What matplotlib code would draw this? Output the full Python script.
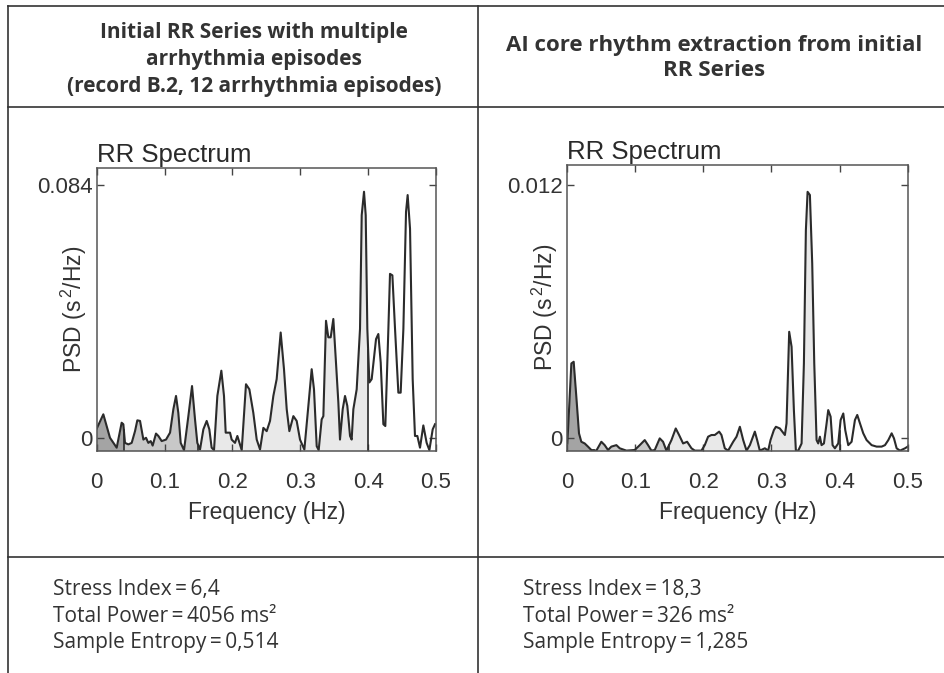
import numpy as np
import matplotlib.pyplot as plt
from matplotlib.lines import Line2D

plt.rcParams['font.family'] = ['Liberation Sans', 'DejaVu Sans']
plt.rcParams['mathtext.fontset'] = 'custom'
plt.rcParams['mathtext.rm'] = 'Liberation Sans'

# spectrum of the initial RR series (Hz, s^2/Hz)
freq_init = [0.000, 0.0098, 0.0196, 0.0295, 0.0368, 0.0393, 0.0417, 0.0467, 0.0516, 0.0565,
             0.0599, 0.0639, 0.0688, 0.0727, 0.0761, 0.0796, 0.0825, 0.0874, 0.0909, 0.0958,
             0.1022, 0.1081, 0.1130, 0.1169, 0.1203, 0.1238, 0.1287, 0.1351, 0.1405, 0.1449,
             0.1483, 0.1523, 0.1572, 0.1621, 0.1660, 0.1694, 0.1729, 0.1778, 0.1837, 0.1876,
             0.1901, 0.1965, 0.1989, 0.2038, 0.2073, 0.2137, 0.2200, 0.2250, 0.2308, 0.2358,
             0.2407, 0.2456, 0.2505, 0.2554, 0.2603, 0.2652, 0.2711, 0.2760, 0.2800, 0.2839,
             0.2898, 0.2947, 0.2996, 0.3060, 0.3119, 0.3168, 0.3202, 0.3242, 0.3271, 0.3315,
             0.3340, 0.3379, 0.3413, 0.3448, 0.3487, 0.3526, 0.3561, 0.3585, 0.3625, 0.3659,
             0.3693, 0.3733, 0.3757, 0.3782, 0.3831, 0.3880, 0.3905, 0.3939, 0.3964, 0.3988,
             0.4018, 0.4052, 0.4116, 0.4150, 0.4185, 0.4224, 0.4253, 0.4298, 0.4322, 0.4357,
             0.4396, 0.4445, 0.4479, 0.4519, 0.4558, 0.4582, 0.4617, 0.4656, 0.4690, 0.4725,
             0.4764, 0.4813, 0.4862, 0.4902, 0.4951, 0.4985]
psd_init = [0.0030, 0.0078, 0.0000, -0.0033, 0.0050, 0.0045, -0.0017, -0.0022, -0.0017, 0.0022,
            0.0058, 0.0056, -0.0006, 0.0000, -0.0017, -0.0011, -0.0026, 0.0014, 0.0006, -0.0011,
            -0.0006, 0.0017, 0.0095, 0.0139, 0.0083, -0.0017, -0.0041, 0.0072, 0.0172, 0.0061,
            -0.0017, -0.0039, 0.0028, 0.0056, 0.0028, -0.0033, -0.0041, 0.0139, 0.0223, 0.0139,
            0.0017, 0.0017, -0.0006, -0.0017, 0.0006, -0.0041, 0.0178, 0.0161, 0.0083, -0.0006,
            -0.0039, 0.0033, 0.0022, 0.0056, 0.0139, 0.0195, 0.0350, 0.0228, 0.0095, 0.0022,
            0.0072, 0.0056, -0.0006, -0.0039, 0.0106, 0.0228, 0.0161, -0.0028, -0.0041, 0.0061,
            0.0072, 0.0389, 0.0334, 0.0334, 0.0395, 0.0250, 0.0117, -0.0006, 0.0095, 0.0139,
            0.0106, 0.0006, -0.0006, 0.0095, 0.0161, 0.0362, 0.0740, 0.0818, 0.0740, 0.0362,
            0.0184, 0.0195, 0.0328, 0.0345, 0.0250, 0.0045, 0.0039, 0.0362, 0.0545, 0.0540,
            0.0362, 0.0150, 0.0150, 0.0362, 0.0751, 0.0807, 0.0695, 0.0195, 0.0006, 0.0006,
            -0.0033, 0.0041, -0.0017, -0.0041, 0.0028, 0.0045]

# spectrum after AI core rhythm extraction
freq_core = [0.0005, 0.0064, 0.0098, 0.0137, 0.0176, 0.0210, 0.0260, 0.0308, 0.0357, 0.0431,
             0.0504, 0.0553, 0.0602, 0.0651, 0.0725, 0.0774, 0.0872, 0.0994, 0.1068, 0.1141,
             0.1190, 0.1239, 0.1288, 0.1361, 0.1410, 0.1459, 0.1533, 0.1596, 0.1645, 0.1704,
             0.1763, 0.1827, 0.1876, 0.1973, 0.2022, 0.2071, 0.2120, 0.2169, 0.2233, 0.2267,
             0.2316, 0.2365, 0.2439, 0.2488, 0.2537, 0.2586, 0.2635, 0.2684, 0.2757, 0.2791,
             0.2830, 0.2904, 0.2953, 0.2987, 0.3036, 0.3066, 0.3124, 0.3198, 0.3222, 0.3261,
             0.3296, 0.3330, 0.3359, 0.3394, 0.3443, 0.3477, 0.3506, 0.3531, 0.3565, 0.3599,
             0.3629, 0.3663, 0.3687, 0.3712, 0.3736, 0.3771, 0.3810, 0.3834, 0.3869, 0.3898,
             0.3932, 0.3981, 0.4016, 0.4055, 0.4084, 0.4128, 0.4177, 0.4226, 0.4260, 0.4300,
             0.4348, 0.4397, 0.4471, 0.4544, 0.4618, 0.4667, 0.4716, 0.4765, 0.4799, 0.4838,
             0.4887, 0.4961, 0.5000]
psd_core = [-0.00024, 0.00355, 0.00363, 0.00197, 0.00024, -0.00016, -0.00024, -0.00039, -0.00055, -0.00058,
            -0.00016, -0.00032, -0.00055, -0.00039, -0.00032, -0.00047, -0.00058, -0.00055, -0.00032, -0.00008,
            -0.00032, -0.00058, -0.00055, 0.00000, -0.00016, -0.00058, -0.00008, 0.00047, 0.00016, -0.00024,
            -0.00016, -0.00047, -0.00058, -0.00058, -0.00032, 0.00008, 0.00016, 0.00016, 0.00032, 0.00016,
            -0.00047, -0.00058, -0.00016, 0.00008, 0.00055, -0.00008, -0.00058, -0.00032, 0.00032, -0.00008,
            -0.00058, -0.00047, -0.00058, -0.00008, 0.00039, 0.00055, 0.00047, 0.00016, 0.00071, 0.00505,
            0.00434, 0.00134, -0.00058, -0.00058, -0.00024, 0.00355, 0.00987, 0.01168, 0.01153, 0.00829,
            0.00355, -0.00008, -0.00024, 0.00008, -0.00032, -0.00024, 0.00071, 0.00134, 0.00103, -0.00032,
            -0.00047, -0.00024, 0.00087, 0.00118, 0.00039, -0.00032, -0.00016, 0.00087, 0.00111, 0.00071,
            0.00024, -0.00008, -0.00032, -0.00039, -0.00039, -0.00032, -0.00008, 0.00024, 0.00000, -0.00047,
            -0.00058, -0.00047, -0.00039]

bands = [0.0, 0.04, 0.15, 0.4]
band_colors = ['#a4a4a4', '#c8c8c8', '#e9e9e9']

headers = ['Initial RR Series with multiple\narrhythmia episodes\n(record B.2, 12 arrhythmia episodes)',
           'AI core rhythm extraction from initial\nRR Series']
stats = ['Stress Index\u2009=\u20096,4\nTotal Power\u2009=\u20094056 ms\u00b2\nSample Entropy\u2009=\u20090,514',
         'Stress Index\u2009=\u200918,3\nTotal Power\u2009=\u2009326 ms\u00b2\nSample Entropy\u2009=\u20091,285']

W, H = 945, 673
fig = plt.figure(figsize=(W / 100, H / 100), dpi=100)
ink = '#2b2b2b'


def px(x, y):
    return x / W, 1 - y / H


def spectrum(ax, f, p, ylo, yhi, ytop, ylab_x, xlab_y):
    f = np.asarray(f)
    p = np.asarray(p)
    for a, b, c in zip(bands[:-1], bands[1:], band_colors):
        m = (f > a) & (f < b)
        fx = np.concatenate([[a], f[m], [b]])
        py = np.concatenate([[np.interp(a, f, p)], p[m], [np.interp(b, f, p)]])
        ax.fill_between(fx, py, ylo, color=c, lw=0)
    for e in bands[1:]:
        ax.plot([e, e], [ylo, np.interp(e, f, p)], color=ink, lw=1.2)
    ax.plot(f, p, color=ink, lw=1.5)
    ax.set_xlim(0, 0.5)
    ax.set_ylim(ylo, yhi)
    ax.set_xticks([0, 0.1, 0.2, 0.3, 0.4, 0.5])
    ax.set_xticklabels(['0', '0.1', '0.2', '0.3', '0.4', '0.5'])
    ax.set_yticks([0, ytop])
    ax.set_yticklabels(['0', str(ytop)])
    ax.tick_params(direction='in', top=True, right=True, length=5, width=1,
                   color='#444444', labelsize=16, labelcolor='#333333')
    ax.tick_params(axis='x', pad=15)
    ax.tick_params(axis='y', pad=3)
    for s in ax.spines.values():
        s.set_color('#555555')
        s.set_linewidth(1.1)
    ax.set_title('RR Spectrum', loc='left', fontsize=18.5, color='#2a2a2a', pad=4)
    ax.set_xlabel('Frequency (Hz)', fontsize=16.5, color='#333333', va='center')
    ax.set_ylabel('PSD (s$^{\\,2}$/Hz)', fontsize=16.5, color='#333333', va='center')
    ax.xaxis.set_label_coords(0.5, xlab_y)
    ax.yaxis.set_label_coords(ylab_x, 0.5)


ax1 = fig.add_axes([0.1023, 0.3303, 0.3591, 0.4201])
spectrum(ax1, freq_init, psd_init, -0.0043, 0.0897, 0.084, -0.066, -0.217)

ax2 = fig.add_axes([0.6000, 0.3303, 0.3605, 0.4245])
spectrum(ax2, freq_core, psd_core, -0.000584, 0.01295, 0.012, -0.064, -0.2146)

# table grid
grid = dict(color='#333333', lw=1.2, transform=fig.transFigure)
for (x0, y0), (x1, y1) in [((8, 6), (945, 6)), ((8, 106.5), (945, 106.5)),
                           ((8, 556.5), (945, 556.5)), ((8, 6), (8, 673)),
                           ((478, 6), (478, 673))]:
    a, b = px(x0, y0), px(x1, y1)
    fig.add_artist(Line2D([a[0], b[0]], [a[1], b[1]], **grid))

hfont = ['Open Sans', 'DejaVu Sans']
fig.text(*px(254, 59.5), headers[0], ha='center', va='center', ma='center',
         fontsize=15, fontweight='bold', family=hfont, color='#333333', linespacing=1.38)
fig.text(*px(714, 58), headers[1], ha='center', va='center', ma='center',
         fontsize=16, fontweight='bold', family=hfont, color='#333333', linespacing=1.3)

fig.text(*px(53, 616), stats[0], ha='left', va='center', fontsize=15,
         family=hfont, color='#333333', linespacing=1.32)
fig.text(*px(523, 616), stats[1], ha='left', va='center', fontsize=15,
         family=hfont, color='#333333', linespacing=1.32)

fig.savefig('out.png', dpi=100, facecolor='white')
